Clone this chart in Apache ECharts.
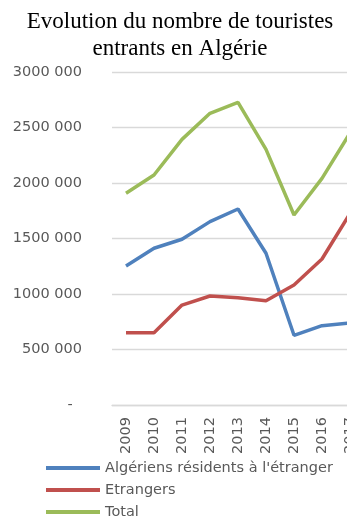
<!DOCTYPE html>
<html>
<head>
<meta charset="utf-8">
<script src="https://cdn.jsdelivr.net/npm/echarts@6/dist/echarts.min.js"></script>
<style>
html,body{margin:0;padding:0;background:#fff;}
#chart{width:347px;height:517px;}
</style>
</head>
<body>
<div id="chart"></div>
<script>
var years = ['2009','2010','2011','2012','2013','2014','2015','2016','2017'];
var algeriens = [1252000, 1412000, 1493000, 1652000, 1766000, 1367000, 628000, 715000, 740000];
var etrangers = [652000, 652000, 900000, 982000, 967000, 940000, 1081000, 1315000, 1725000];
var total = [1907000, 2072000, 2393000, 2628000, 2727000, 2303000, 1712000, 2042000, 2450000];
var seriesNames = ["Algériens résidents à l'étranger", 'Etrangers', 'Total'];
var colors = ['#4F81BD', '#C0504D', '#9BBB59'];

function fmt(v) {
  if (v === 0) return '-  ';
  var s = String(Math.round(v));
  return s.slice(0, s.length - 3) + ' ' + s.slice(s.length - 3);
}

var chart = echarts.init(document.getElementById('chart'), null, {renderer: 'canvas'});
var font = 'DejaVu Sans';
var fs = 14.5;
var mk = function (name, data, color) {
  return {
    name: name, type: 'line', data: data, symbol: 'none',
    lineStyle: {color: color, width: 3.5}, itemStyle: {color: color}
  };
};
chart.setOption({
  animation: false,
  title: {
    text: 'Evolution du nombre de touristes\nentrants en Algérie',
    left: 180, top: 8, padding: 0, textAlign: 'center',
    textStyle: {fontFamily: 'Liberation Serif', fontSize: 23, fontWeight: 'normal', color: '#000', lineHeight: 27}
  },
  grid: {left: 112, top: 72, width: 252, height: 333, containLabel: false, outerBoundsMode: 'none'},
  xAxis: {
    type: 'category', data: years, boundaryGap: true,
    axisLine: {lineStyle: {color: '#D9D9D9', width: 1.3}},
    axisTick: {show: false},
    axisLabel: {rotate: 90, color: '#595959', fontFamily: font, fontSize: fs, margin: 12, interval: 0, hideOverlap: false}
  },
  yAxis: {
    type: 'value', min: 0, max: 3000000, interval: 500000,
    axisLine: {show: false}, axisTick: {show: false},
    splitLine: {lineStyle: {color: '#D9D9D9', width: 1.3}},
    axisLabel: {color: '#595959', fontFamily: font, fontSize: fs, margin: 30, formatter: fmt}
  },
  legend: {
    orient: 'vertical', left: 41, top: 454, height: 120, itemGap: 4,
    icon: 'rect', itemWidth: 54, itemHeight: 4,
    data: seriesNames,
    textStyle: {color: '#595959', fontFamily: font, fontSize: fs, lineHeight: 18}
  },
  series: [
    mk(seriesNames[0], algeriens, colors[0]),
    mk(seriesNames[1], etrangers, colors[1]),
    mk(seriesNames[2], total, colors[2])
  ]
});
</script>
</body>
</html>
